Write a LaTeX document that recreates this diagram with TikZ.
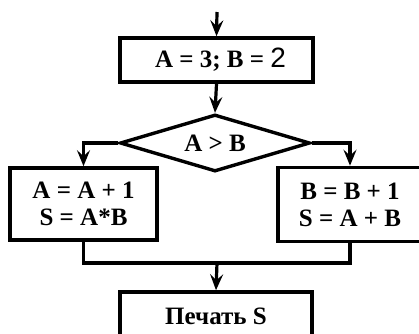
\documentclass[tikz,border=0pt]{standalone}
\usepackage{fontspec}
\setmainfont{Liberation Serif}
\newfontfamily\twofont{Liberation Sans}
\usetikzlibrary{shapes.geometric,arrows.meta}
\tikzset{
  box/.style={draw, line width=3.6pt, rectangle, inner sep=0pt, align=center,
    font=\fontsize{25}{27}\selectfont\bfseries},
  dec/.style={draw, line width=3.4pt, diamond, inner sep=0pt, aspect=3.33,
    font=\fontsize{25}{27}\selectfont\bfseries},
  conn/.style={line width=3.2pt},
  arr/.style={conn, -{Stealth[length=16pt, width=13pt, inset=6pt]}}
}
\begin{document}
\begin{tikzpicture}[x=1pt, y=-1pt]
\useasboundingbox (0,0) rectangle (419,333);
\node[box, minimum width=193pt, minimum height=44pt] (b1) at (216.5,60) {\hspace*{8pt}A = 3; B = {\twofont\mdseries\fontsize{28}{27}\selectfont 2}};
\node[dec, minimum width=190pt, minimum height=57pt] (d) at (215,143) {A > B};
\node[box, minimum width=147pt, minimum height=72pt] (lb) at (83.5,204) {A = A + 1\\S = A*B};
\node[box, minimum width=144pt, minimum height=74pt] (rb) at (350,204.5) {B = B + 1\\S = A + B};
\node[box, minimum width=192pt, minimum height=48pt] (pb) at (216,316) {Печать S};
\coordinate (start) at (217,12);
\coordinate (join) at (217,263);
\draw[arr] (start) -- (b1.north);
\draw[arr] (b1.south) -- (d.north);
\draw[arr] (d.west) -| (lb.north);
\draw[arr] (d.east) -| (rb.north);
\draw[conn] (lb.south) |- (join) -| (rb.south);
\draw[arr] (join) -- (pb.north);
\end{tikzpicture}
\end{document}
